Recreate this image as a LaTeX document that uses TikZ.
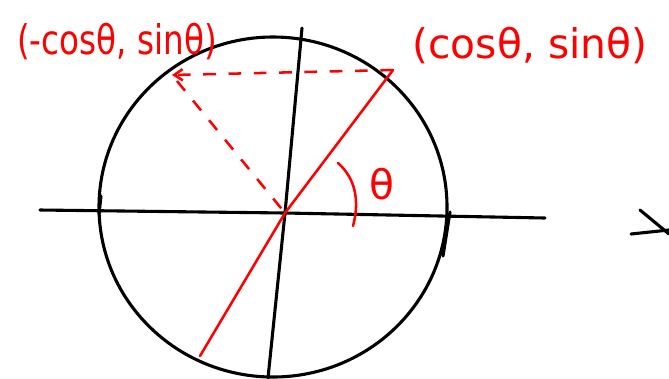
\documentclass[tikz,border=0pt]{standalone}
\usepackage{fontspec}
\usepackage{xcolor}
\usetikzlibrary{arrows.meta,calc}
\setmainfont{DejaVu Sans}
\definecolor{penred}{HTML}{FF0000}

\begin{document}
\begin{tikzpicture}[
            x=0.025cm, y=-0.025cm,
            ink/.style={draw=black, line width=2.2pt, line cap=round, line join=round},
            redink/.style={draw=penred, line width=1.8pt, line cap=round},
            guide/.style={draw=penred, line width=1.8pt, dash pattern=on 9pt off 9pt},
            plab/.style={text=penred, font=\fontsize{29}{34}\selectfont, inner sep=0pt}
        ]
        \useasboundingbox (0,0) rectangle (669,378);

        % =============== circle and axes ===============
        \draw[ink] (273,207) ellipse [x radius=174, y radius=170];
        \coordinate (O) at (285,213);
        \coordinate (xl) at (40,210);
        \coordinate (xr) at (545,218);
        \coordinate (yt) at (302,28);
        \coordinate (yb) at (268,378);
        \draw[ink] (xl) -- (O) -- (xr);
        \draw[ink] (yt) -- (O) -- (yb);
        % crossing marks on the circle
        \draw[ink] (101,196) -- (99,214);
        \draw[ink] (450,212) -- (443,256);

        % =============== radius through the origin ===============
        \coordinate (P) at (393,70);
        \coordinate (Q) at (200,356);
        \coordinate (Pm) at (172,75);
        \draw[redink] (P) -- (O) -- (Q);
        \draw[guide, -{Straight Barb[length=6pt,width=8pt]}] (P) -- (Pm);
        \draw[guide] (Pm) ++(5,6) -- (O);

        % =============== angle ===============
        \draw[redink] (338,163) .. controls (355,178) and (360,200) .. (353,226);
        \node[plab] (th) at (382,184) {θ};

        % =============== point labels ===============
        \node[plab, xscale=0.8] (lbl) at (117,42) {(-cosθ, sinθ)};
        \node[plab] (rbl) at (530,46) {(cosθ, sinθ)};

        % =============== cut-off stroke at the right ===============
        \draw[ink] (631,234) -- (669,230);
        \draw[ink] (640,210) -- (669,234);
    \end{tikzpicture}
\end{document}
